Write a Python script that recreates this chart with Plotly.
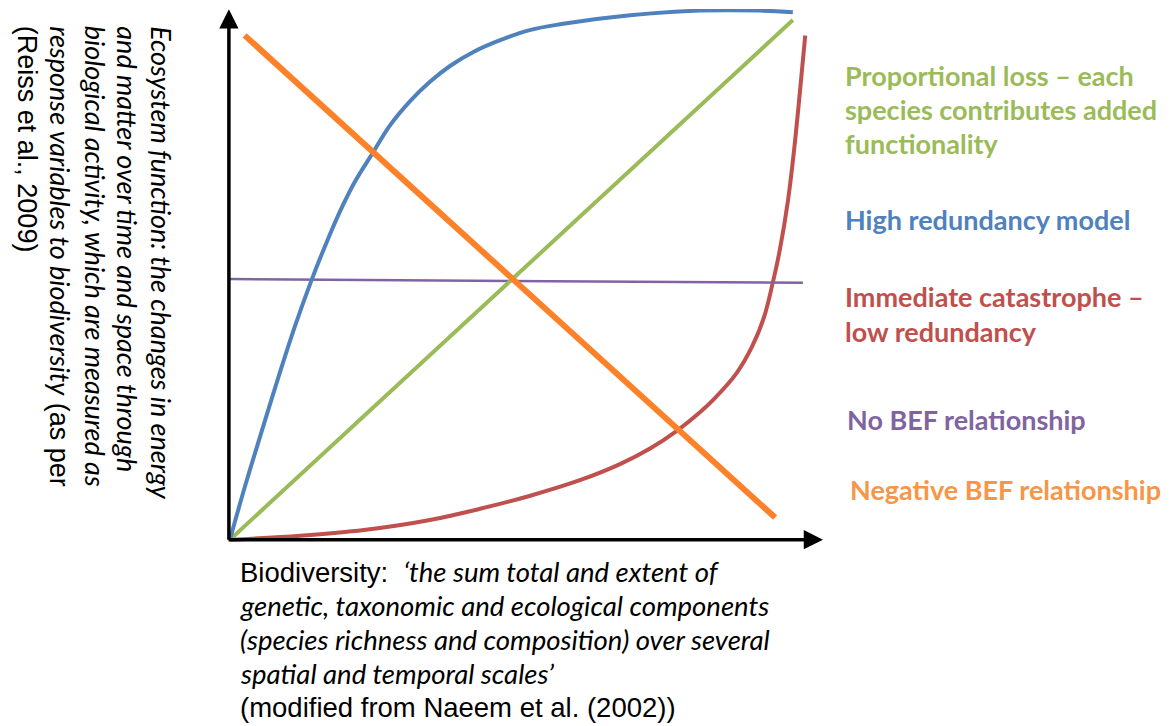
import plotly.graph_objects as go

# ---------------- data (arbitrary units: biodiversity 0-100, function 0-100) -------------
green_x = [0, 95.4]
green_y = [0, 98.5]

blue_x = [0, 2.5, 5.1, 8.5, 11.0, 13.9, 16.1, 18.6, 21.2, 24.2, 27.1, 30.5, 33.9, 37.3,
          41.5, 45.8, 50.8, 55.9, 67.8, 79.7, 89.8, 95.4]
blue_y = [0, 9.9, 19.5, 31.8, 40.4, 49.4, 55.6, 62.1, 67.9, 73.3, 78.5, 83.1, 86.8, 89.8,
          92.6, 94.7, 96.6, 97.7, 99.4, 100.3, 100.3, 100.0]

red_x = [0, 11.9, 22.7, 33.9, 42.4, 50.9, 59.3, 66.1, 71.2, 75.8, 79.7, 81.9, 85.9, 88.5,
         90.5, 92.0, 93.2, 94.6, 95.6, 96.4, 97.5]
red_y = [0, 0.76, 1.84, 3.74, 5.87, 8.34, 11.28, 14.34, 17.30, 20.70, 24.21, 26.52, 31.64,
         36.63, 42.13, 48.73, 54.97, 64.49, 73.79, 82.59, 95.57]

purple_x = [0, 97.1]
purple_y = [49.4, 48.7]

orange_x = [2.5, 92.4]
orange_y = [95.6, 4.2]

GREEN, BLUE, RED, PURPLE = "#9BBB59", "#4F81BD", "#C0504D", "#8064A2"
ORANGE_LINE, ORANGE_TXT = "#FD8128", "#F79646"

# ---------------- layout geometry (screen pixels; page body has an 8px offset) -------------
OFF = 8
W, H = 1172 - OFF, 726 - OFF
X0, XS = 230 - OFF, 5.9      # figure pixel of x=0, px per unit
Y0, YS = 540 - OFF, 5.28     # figure pixel of y=0, px per unit
XR = [-1, 100]
YR = [-1, 100.6]
L = X0 + XR[0] * XS
R = W - (X0 + XR[1] * XS)
T = Y0 - YR[1] * YS
B = H - (Y0 - YR[0] * YS)
PW = W - L - R
PH = H - T - B


def px(p):
    return (p - OFF - L) / PW


def py(p):
    return (H - B - (p - OFF)) / PH


fig = go.Figure()
fig.add_trace(go.Scatter(x=red_x, y=red_y, mode="lines", cliponaxis=False,
                         line=dict(color=RED, width=4, shape="spline", smoothing=1.0)))
fig.add_trace(go.Scatter(x=purple_x, y=purple_y, mode="lines", cliponaxis=False,
                         line=dict(color=PURPLE, width=2.5)))
fig.add_trace(go.Scatter(x=green_x, y=green_y, mode="lines", cliponaxis=False,
                         line=dict(color=GREEN, width=4)))
fig.add_trace(go.Scatter(x=blue_x, y=blue_y, mode="lines", cliponaxis=False,
                         line=dict(color=BLUE, width=4, shape="spline", smoothing=1.0)))
fig.add_trace(go.Scatter(x=orange_x, y=orange_y, mode="lines", cliponaxis=False,
                         line=dict(color=ORANGE_LINE, width=6)))

annotations = []

# axis arrows
annotations.append(dict(xref="paper", yref="paper", x=px(229), y=py(9), ax=0, ay=532,
                        axref="pixel", ayref="pixel", showarrow=True, text="",
                        arrowhead=2, arrowsize=1.1, arrowwidth=3.5, arrowcolor="black"))
annotations.append(dict(xref="paper", yref="paper", x=px(823), y=py(540), ax=-596, ay=0,
                        axref="pixel", ayref="pixel", showarrow=True, text="",
                        arrowhead=2, arrowsize=1.1, arrowwidth=3.5, arrowcolor="black"))

# right-hand labels
right_labels = [
    ("Proportional loss \u2013 each", 843, 75, GREEN),
    ("species contributes added", 843, 109, GREEN),
    ("functionality", 843, 143, GREEN),
    ("High redundancy model", 843, 220, BLUE),
    ("Immediate catastrophe \u2013", 843, 297, RED),
    ("low redundancy", 843, 332, RED),
    ("No BEF relationship", 845, 420, PURPLE),
    ("Negative BEF relationship", 848, 490, ORANGE_TXT),
]
for txt, xx, yy, col in right_labels:
    annotations.append(dict(xref="paper", yref="paper", x=px(xx), y=py(yy), text=txt,
                            showarrow=False, xanchor="left", yanchor="middle",
                            font=dict(family="Lato", size=27, color=col, weight=700)))

# bottom (x-axis) label
IT = '<span style="font-family:Lato;font-style:italic">{}</span>'
bottom_lines = [
    "Biodiversity:  " + IT.format("\u2018the sum total and extent of"),
    IT.format("genetic, taxonomic and ecological components"),
    IT.format("(species richness and composition) over several"),
    IT.format("spatial and temporal scales\u2019"),
    "(modified from Naeem et al. (2002))",
]
bottom_y = [572, 606, 640, 674, 708]
for txt, yy in zip(bottom_lines, bottom_y):
    annotations.append(dict(xref="paper", yref="paper", x=px(238), y=py(yy), text=txt,
                            showarrow=False, xanchor="left", yanchor="middle",
                            font=dict(family="Liberation Sans", size=27.5, color="black")))

# left (y-axis) label, rotated
left_lines = [
    IT.format("Ecosystem function: the changes in energy"),
    IT.format("and matter over time and space through"),
    IT.format("biological activity, which are measured as"),
    IT.format("response variables to biodiversity") + " (as per",
    "(Reiss et al., 2009)",
]
left_x = [162, 128, 95, 61, 27]
for txt, xx in zip(left_lines, left_x):
    annotations.append(dict(xref="paper", yref="paper", x=px(xx), y=py(24), text=txt,
                            showarrow=False, xanchor="center", yanchor="top", textangle=90,
                            font=dict(family="Liberation Sans", size=27, color="black")))

fig.update_layout(
    width=W, height=H,
    margin=dict(l=L, r=R, t=T, b=B, pad=0),
    paper_bgcolor="white", plot_bgcolor="white",
    showlegend=False,
    xaxis=dict(range=XR, visible=False, fixedrange=True),
    yaxis=dict(range=YR, visible=False, fixedrange=True),
    annotations=annotations,
)

fig.write_html("out.html")
